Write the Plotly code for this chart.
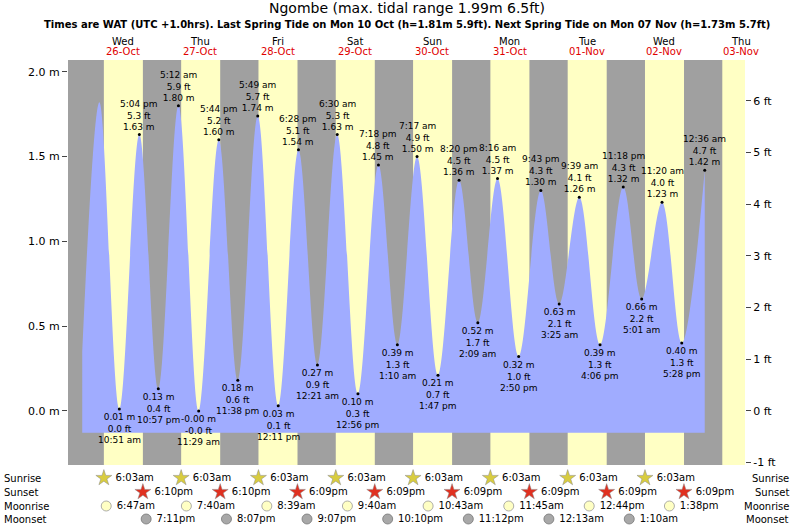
import plotly.graph_objects as go
from datetime import datetime, timedelta

# tide extremes (time, height in m)
tide_times = ["2022-10-25 23:20", "2022-10-26 04:40", "2022-10-26 10:51", "2022-10-26 17:04", "2022-10-26 22:57",
              "2022-10-27 05:12", "2022-10-27 11:29", "2022-10-27 17:44", "2022-10-27 23:38",
              "2022-10-28 05:49", "2022-10-28 12:11", "2022-10-28 18:28", "2022-10-29 00:21",
              "2022-10-29 06:30", "2022-10-29 12:56", "2022-10-29 19:18", "2022-10-30 01:10",
              "2022-10-30 07:17", "2022-10-30 13:47", "2022-10-30 20:20", "2022-10-31 02:09",
              "2022-10-31 08:16", "2022-10-31 14:50", "2022-10-31 21:43", "2022-11-01 03:25",
              "2022-11-01 09:39", "2022-11-01 16:06", "2022-11-01 23:18", "2022-11-02 05:01",
              "2022-11-02 11:20", "2022-11-02 17:28", "2022-11-03 00:36"]
tide_heights = [0.35, 1.82, 0.01, 1.63, 0.13, 1.80, -0.001, 1.60, 0.18, 1.74, 0.03, 1.54, 0.27,
                1.63, 0.10, 1.45, 0.39, 1.50, 0.21, 1.36, 0.52, 1.37, 0.32, 1.30, 0.63,
                1.26, 0.39, 1.32, 0.66, 1.23, 0.40, 1.42]
# first two points are unlabelled
labelled_from = 2

days = ["2022-10-26", "2022-10-27", "2022-10-28", "2022-10-29", "2022-10-30",
        "2022-10-31", "2022-11-01", "2022-11-02", "2022-11-03"]
day_names = ["Wed", "Thu", "Fri", "Sat", "Sun", "Mon", "Tue", "Wed", "Thu"]
day_dates = ["26-Oct", "27-Oct", "28-Oct", "29-Oct", "30-Oct", "31-Oct", "01-Nov", "02-Nov", "03-Nov"]

sunrise = ["2022-10-26 06:03", "2022-10-27 06:03", "2022-10-28 06:03", "2022-10-29 06:03",
           "2022-10-30 06:03", "2022-10-31 06:03", "2022-11-01 06:03", "2022-11-02 06:03"]
sunset = ["2022-10-26 18:10", "2022-10-27 18:10", "2022-10-28 18:09", "2022-10-29 18:09",
          "2022-10-30 18:09", "2022-10-31 18:09", "2022-11-01 18:09", "2022-11-02 18:09"]
moonrise = ["2022-10-26 06:47", "2022-10-27 07:40", "2022-10-28 08:39", "2022-10-29 09:40",
            "2022-10-30 10:43", "2022-10-31 11:45", "2022-11-01 12:44", "2022-11-02 13:38"]
moonset = ["2022-10-26 19:11", "2022-10-27 20:07", "2022-10-28 21:07", "2022-10-29 22:10",
           "2022-10-30 23:12", "2022-11-01 00:13", "2022-11-02 01:10"]

base_level = -0.13
x_start = "2022-10-25 18:55"
x_end = "2022-11-03 13:06"


def tlabel(s):
    t = datetime.strptime(s, "%Y-%m-%d %H:%M")
    return t.strftime("%I:%M").lstrip("0") + (" am" if t.hour < 12 else " pm")


def tshort(s):
    t = datetime.strptime(s, "%Y-%m-%d %H:%M")
    return t.strftime("%I:%M").lstrip("0") + ("am" if t.hour < 12 else "pm")


fig = go.Figure()

W, H = 793, 525
plot_bottom = (H - 465) / (H - 60)

# day / night background
shapes = []
d0 = datetime(2022, 10, 25)
for i in range(10):
    d = d0 + timedelta(days=i)
    shapes.append(dict(type="rect", xref="x", yref="paper", layer="below", line_width=0,
                       fillcolor="#ffffc4",
                       x0=d + timedelta(hours=6, minutes=3), x1=d + timedelta(hours=18, minutes=10),
                       y0=plot_bottom, y1=1))

# baseline then tide curve
fig.add_trace(go.Scatter(x=[tide_times[0], tide_times[-1]], y=[base_level, base_level],
                         mode="lines", line=dict(width=0), hoverinfo="skip", showlegend=False))
fig.add_trace(go.Scatter(x=tide_times, y=tide_heights, mode="lines", line=dict(width=0, shape="spline", smoothing=1.0),
                         fill="tonexty", fillcolor="#a0acff", showlegend=False))
fig.add_trace(go.Scatter(x=tide_times[labelled_from:], y=tide_heights[labelled_from:], mode="markers",
                         marker=dict(color="black", size=3), showlegend=False))

ann = []
for i in range(labelled_from, len(tide_times)):
    h = tide_heights[i]
    is_high = h > tide_heights[i - 1]
    m = f"{h:.2f} m"
    ft = f"{h * 3.28084:.1f} ft"
    tl = tlabel(tide_times[i])
    if is_high:
        txt = f"{tl}<br>{ft}<br>{m}"
        ann.append(dict(x=tide_times[i], y=h, text=txt, showarrow=False, yanchor="bottom", yshift=1,
                        font=dict(size=9, color="black"), align="center"))
    else:
        txt = f"{m}<br>{ft}<br>{tl}"
        ann.append(dict(x=tide_times[i], y=h, text=txt, showarrow=False, yanchor="top", yshift=-1,
                        font=dict(size=9, color="black"), align="center"))

# day headers
for d, n, dt in zip(days, day_names, day_dates):
    ann.append(dict(x=d + " 12:00", y=1.0, xref="x", yref="paper", yanchor="bottom", yshift=11,
                    text=n, showarrow=False, font=dict(size=10, color="black")))
    ann.append(dict(x=d + " 12:00", y=1.0, xref="x", yref="paper", yanchor="bottom", yshift=1,
                    text=dt, showarrow=False, font=dict(size=10, color="#e00000")))

# sun / moon rows
rows = [("Sunrise", sunrise, -478, dict(symbol="star", color="#d8cc40", size=12, line=dict(color="#888", width=0.5))),
        ("Sunset", sunset, -492, dict(symbol="star", color="#e03020", size=12, line=dict(color="#888", width=0.5))),
        ("Moonrise", moonrise, -506, dict(symbol="circle", color="#ffffc4", size=10, line=dict(color="#999", width=0.8))),
        ("Moonset", moonset, -519, dict(symbol="circle", color="#a8a8a8", size=10, line=dict(color="#777", width=0.8)))]
for name, times, yv, mk in rows:
    fig.add_trace(go.Scatter(x=times, y=[yv] * len(times), yaxis="y3", mode="markers+text",
                             text=[" " + tshort(t) for t in times], textposition="middle right",
                             textfont=dict(size=10, color="black"), marker=mk,
                             cliponaxis=False, showlegend=False))
    ann.append(dict(x=-66 / 677, y=yv, xref="paper", yref="y3", text=name, showarrow=False,
                    xanchor="left", font=dict(size=10, color="black")))
    ann.append(dict(x=1.0 + 46 / 677, y=yv, xref="paper", yref="y3", text=name, showarrow=False,
                    xanchor="right", font=dict(size=10, color="black")))

ann.append(dict(x=0.5, y=1.0, xref="paper", yref="paper", yanchor="bottom", yshift=42,
                text="Ngombe (max. tidal range 1.99m 6.5ft)", showarrow=False,
                font=dict(size=14, color="black")))
ann.append(dict(x=0.5, y=1.0, xref="paper", yref="paper", yanchor="bottom", yshift=28,
                text="<b>Times are WAT (UTC +1.0hrs). Last Spring Tide on Mon 10 Oct (h=1.81m 5.9ft). "
                     "Next Spring Tide on Mon 07 Nov (h=1.73m 5.7ft)</b>", showarrow=False,
                font=dict(size=10, color="black")))

ymin, ymax = -0.32, 2.07
fig.update_layout(
    width=W, height=H,
    margin=dict(l=68, r=W - 745, t=60, b=0, autoexpand=False),
    paper_bgcolor="white", plot_bgcolor="white",
    font=dict(family="DejaVu Sans", color="black"),
    hovermode=False,
    shapes=[dict(type="rect", xref="paper", yref="paper", layer="below", line_width=0,
                 fillcolor="#a0a0a0", x0=0, x1=1, y0=plot_bottom, y1=1)] + shapes,
    annotations=ann,
    xaxis=dict(range=[x_start, x_end], showticklabels=False, showgrid=False, zeroline=False,
               anchor="y3"),
    yaxis=dict(domain=[plot_bottom, 1], range=[ymin, ymax], tickvals=[0, 0.5, 1.0, 1.5, 2.0],
               ticktext=["0.0 m", "0.5 m", "1.0 m", "1.5 m", "2.0 m"], ticks="outside",
               showgrid=False, zeroline=False, tickfont=dict(size=11)),
    yaxis2=dict(overlaying="y", side="right", range=[ymin / 0.3048, ymax / 0.3048],
                tickvals=list(range(-1, 7)), ticktext=[f"{v} ft" for v in range(-1, 7)],
                ticks="outside", showgrid=False, zeroline=False, tickfont=dict(size=11)),
    yaxis3=dict(domain=[0, plot_bottom], range=[-H, -465], visible=False),
)
# dummy trace to show right axis
fig.add_trace(go.Scatter(x=[x_start], y=[0], yaxis="y2", mode="markers", marker=dict(opacity=0),
                         showlegend=False, hoverinfo="skip"))

# drop the default page margin so the figure sits at the window's corner
fig.write_html("out.html", config={"displayModeBar": False},
               post_script="document.body.style.margin='0';document.body.style.overflow='hidden';")
